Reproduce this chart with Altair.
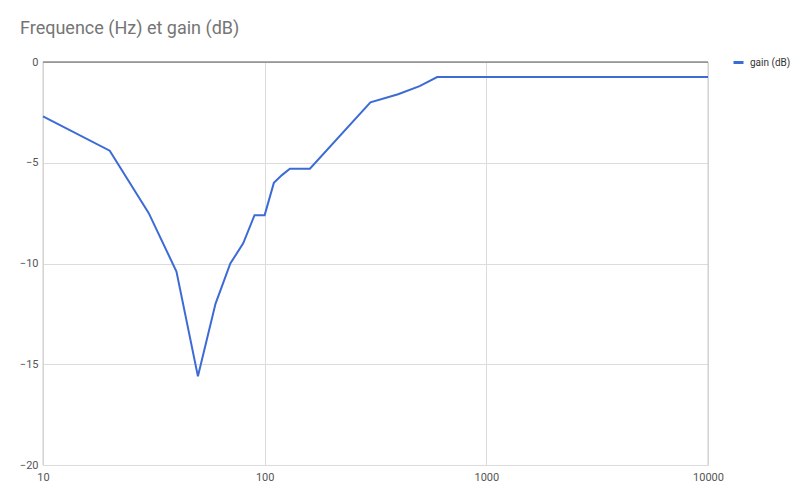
import altair as alt
import pandas as pd

freq = [10, 20, 30, 40, 50, 60, 70, 80, 90, 100, 110, 120, 130, 160, 300, 400, 500, 600, 1000, 2000, 5000, 10000]
gain = [-2.7, -4.4, -7.5, -10.4, -15.6, -12.0, -10.0, -9.0, -7.6, -7.6, -6.0, -5.6, -5.3, -5.3, -2.0, -1.6, -1.2, -0.75, -0.75, -0.75, -0.75, -0.75]
series = "gain (dB)"
x_ticks = [10, 100, 1000, 10000]
y_ticks = [-20, -15, -10, -5, 0]

df = pd.DataFrame({"freq": freq, "gain": gain, "serie": [series] * len(freq)})

font = "Roboto"

x = alt.X("freq:Q", title=None,
          scale=alt.Scale(type="log", domain=[10, 10000], nice=False),
          axis=alt.Axis(values=x_ticks, grid=True, gridColor="#dcdcdc", ticks=False, domain=False,
                        labelColor="#555555", labelFont=font, labelFontSize=11, labelPadding=6,
                        format="d", labelFlush=False))
y = alt.Y("gain:Q", title=None,
          scale=alt.Scale(domain=[-20, 0], nice=False, zero=False),
          axis=alt.Axis(values=y_ticks, grid=True, gridColor="#dcdcdc", ticks=False, domain=False,
                        labelColor="#555555", labelFont=font, labelFontSize=11, labelPadding=5))

line = alt.Chart(df).mark_line(strokeWidth=2).encode(
    x=x, y=y,
    color=alt.Color("serie:N", title=None,
                    scale=alt.Scale(domain=[series], range=["#3c6bd6"]),
                    legend=alt.Legend(orient="none", legendX=689, legendY=-6, symbolType="stroke",
                                      symbolStrokeWidth=3, symbolSize=100, labelOffset=5,
                                      labelFont=font, labelFontSize=10, labelColor="#333333",
                                      padding=0))
)

zero = alt.Chart(pd.DataFrame({"z": [0]})).mark_rule(color="#555555", strokeWidth=1).encode(y="z:Q")
left = alt.Chart(pd.DataFrame({"f": [10, 10000]})).mark_rule(color="#cccccc", strokeWidth=1).encode(x="f:Q")

chart = alt.layer(left, zero, line).properties(
    width=665, height=403,
    title=alt.TitleParams("Frequence (Hz) et gain (dB)", anchor="start", frame="group",
                          dx=-23, offset=18, font=font, fontSize=18, fontWeight="normal",
                          color="#757575"),
    autosize=alt.AutoSizeParams(type="none"),
    padding={"left": 35, "top": 54, "right": 84, "bottom": 20},
).configure_view(stroke=None).configure(background="white")

chart.save("out.html", embed_options={"renderer": "svg", "actions": False})
